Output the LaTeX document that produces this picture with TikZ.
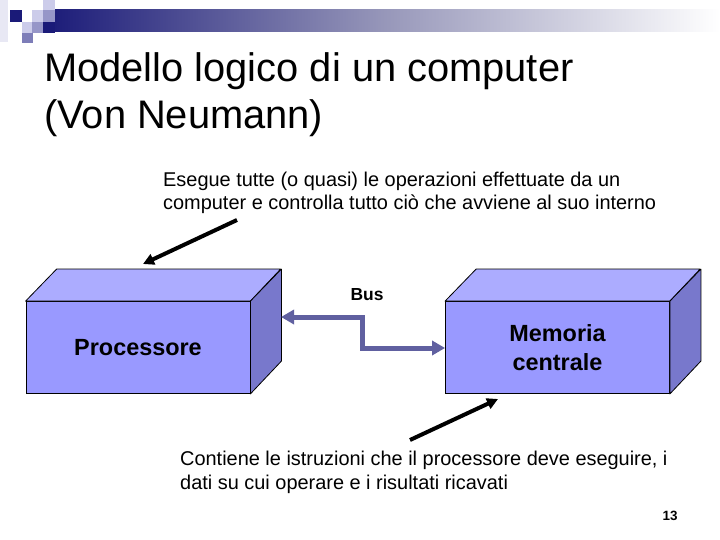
\documentclass[tikz,border=0pt]{standalone}
\usepackage{fontspec}
\setmainfont{Liberation Sans}
\usetikzlibrary{arrows.meta}
\definecolor{frontc}{RGB}{153,153,255}
\definecolor{topc}{RGB}{172,172,255}
\definecolor{sidec}{RGB}{120,120,204}
\definecolor{busc}{RGB}{96,96,160}
\definecolor{navyc}{RGB}{26,26,120}
\definecolor{lightsq}{RGB}{204,204,234}
\definecolor{medsq}{RGB}{150,150,200}
\definecolor{paler}{RGB}{232,232,244}
\begin{document}
\begin{tikzpicture}[x=1bp,y=-1bp,
  frontface/.style={draw=black, line width=0.8bp, fill=frontc, minimum width=224bp, minimum height=92bp, inner sep=0, align=center, font=\bfseries\fontsize{23.5}{28.5}\selectfont},
  topface/.style={draw=black, line width=0.8bp, fill=topc, line join=round},
  sideface/.style={draw=black, line width=0.8bp, fill=sidec, line join=round},
  busarrow/.style={draw=busc, line width=5bp, {Triangle[length=13bp,width=14bp]}-{Triangle[length=13bp,width=14bp]}},
  pointer/.style={draw=black, line width=4bp, -{Triangle[length=11bp,width=11bp]}},
  bodytext/.style={anchor=base west, align=left, inner sep=0, font=\fontsize{20}{23.5}\selectfont}
]
\useasboundingbox (0,0) rectangle (720,540);
\fill[white] (0,0) rectangle (720,540);
% header decoration
\shade[left color=navyc, right color=white, middle color={rgb,255:red,150;green,150;blue,185}] (44,10) rectangle (720,32);
\fill[paler] (0,0) rectangle (8,42);
\fill[lightsq] (43,0) rectangle (55,10);
\fill[navyc] (10,10) rectangle (22,22);
\fill[lightsq] (32,10) rectangle (43,22);
\fill[medsq] (43,10) rectangle (55,22);
\fill[lightsq] (22,22) rectangle (32,33);
\fill[medsq] (32,22) rectangle (43,33);
\fill[navyc] (43,22) rectangle (55,33);
\fill[medsq!80!navyc] (22,33) rectangle (33,43);
% title
\node[anchor=base west, align=left, inner sep=0, font=\fontsize{40}{48}\selectfont] (title) at (44,129) {Modello logico di un computer\\(Von Neumann)};
% boxes
\node[frontface] (proc) at (138,347.5) {Processore};
\filldraw[topface] (proc.north west) -- ++(31,-32) -- ++(224,0) -- (proc.north east) -- cycle;
\filldraw[sideface] (proc.north east) -- ++(31,-32) -- ++(0,92) -- (proc.south east) -- cycle;
\node[frontface] (mem) at (557.5,347.5) {Memoria\\centrale};
\filldraw[topface] (mem.north west) -- ++(31,-32) -- ++(224,0) -- (mem.north east) -- cycle;
\filldraw[sideface] (mem.north east) -- ++(31,-32) -- ++(0,92) -- (mem.south east) -- cycle;
% bus
\node[font=\bfseries\fontsize{17.5}{20}\selectfont, inner sep=0] (bus) at (367,295) {Bus};
\coordinate (pR) at (281,317);
\coordinate (b1) at (362,317);
\coordinate (b2) at (362,348);
\coordinate (mL) at (mem.west |- b2);
\draw[busarrow] (pR) -- (b1) -- (b2) -- (mL);
% texts
\node[bodytext] (cpu) at (163,210) {Esegue tutte (o quasi) le operazioni effettuate da un\\computer e controlla tutto ciò che avviene al suo interno};
\node[bodytext] (memt) at (180,489) {Contiene le istruzioni che il processore deve eseguire, i\\dati su cui operare e i risultati ricavati};
\coordinate (a1s) at (237,220);
\coordinate (a1e) at (143,264);
\draw[pointer] (a1s) -- (a1e);
\coordinate (a2s) at (410,440);
\coordinate (a2e) at (498,399);
\draw[pointer] (a2s) -- (a2e);
\node[font=\bfseries\fontsize{13.5}{16}\selectfont, inner sep=0] (pg) at (670,516) {13};
\end{tikzpicture}
\end{document}
